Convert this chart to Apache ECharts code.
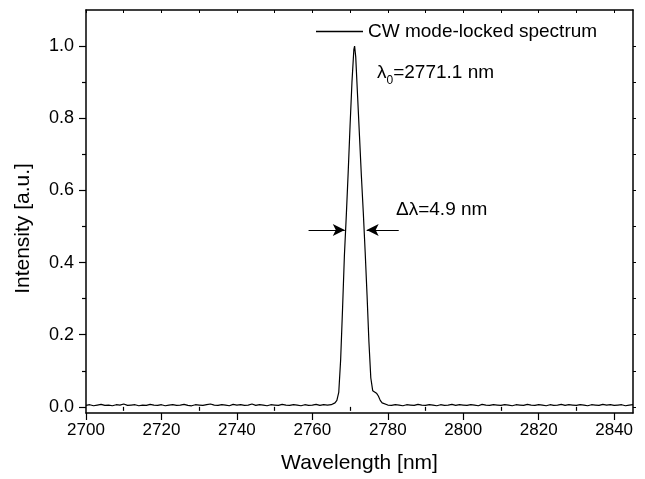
<!DOCTYPE html>
<html><head><meta charset="utf-8">
<script src="https://cdn.jsdelivr.net/npm/echarts@6/dist/echarts.min.js"></script>
<style>html,body{margin:0;padding:0;background:#fff}#c{width:645px;height:479px}</style>
</head><body><div id="c"></div>
<script>
// ---- data ----
const baseLeftStart = 2700; // 1 nm steps, 2700..2764
const baseLeft = [
 0.004,0.006,0.003,0.005,0.007,0.004,0.005,0.003,0.006,0.005,
 0.008,0.004,0.005,0.006,0.003,0.005,0.004,0.007,0.005,0.004,
 0.006,0.003,0.005,0.006,0.004,0.005,0.007,0.004,0.003,0.006,
 0.005,0.004,0.006,0.008,0.005,0.004,0.006,0.005,0.003,0.007,
 0.005,0.006,0.004,0.005,0.008,0.004,0.006,0.005,0.003,0.006,
 0.005,0.004,0.007,0.005,0.004,0.006,0.005,0.003,0.006,0.004,
 0.005,0.007,0.004,0.006,0.005];
const peakWavelength = [2765,2765.5,2766,2766.5,2767,2767.5,2768,2768.5,2769,2769.5,2770,2770.5,2771,2771.2,2771.5,2772,2772.5,2773,2773.5,2774,2774.5,2775,2775.5,2776,2776.5,2777,2777.5,2778,2778.5,2779];
const peakIntensity  = [0.006,0.008,0.011,0.018,0.04,0.13,0.27,0.42,0.53,0.65,0.78,0.9,0.99,1.0,0.97,0.86,0.75,0.64,0.54,0.43,0.31,0.18,0.08,0.045,0.04,0.038,0.03,0.018,0.011,0.007];
const baseRightStart = 2780; // 1 nm steps, 2780..2845
const baseRight = [
 0.005,0.004,0.006,0.005,0.003,0.006,0.005,0.004,0.007,0.005,
 0.004,0.006,0.005,0.003,0.006,0.004,0.005,0.007,0.004,0.006,
 0.005,0.004,0.006,0.005,0.003,0.007,0.005,0.004,0.006,0.005,
 0.004,0.006,0.005,0.003,0.006,0.005,0.004,0.007,0.005,0.004,
 0.006,0.005,0.003,0.006,0.004,0.005,0.007,0.004,0.006,0.005,
 0.004,0.006,0.005,0.003,0.006,0.005,0.004,0.007,0.005,0.006,
 0.004,0.005,0.006,0.003,0.005,0.006];
const xMajorTicks = [2700,2720,2740,2760,2780,2800,2820,2840];
const xMinorTicks = [2710,2730,2750,2770,2790,2810,2830];
const yMajorTicks = [0,0.2,0.4,0.6,0.8,1.0];
const yMinorTicks = [0.1,0.3,0.5,0.7,0.9];
const seriesName = 'CW mode-locked spectrum';
const fwhmLeftArrow = [[2759.0,0.49],[2768.6,0.49]];
const fwhmRightArrow = [[2782.9,0.49],[2774.4,0.49]];

// ---- build ----
const pts = [];
baseLeft.forEach((v,i)=>pts.push([baseLeftStart+i, v]));
peakWavelength.forEach((w,i)=>pts.push([w, peakIntensity[i]]));
baseRight.forEach((v,i)=>pts.push([baseRightStart+i, v]));

const FONT = 'Liberation Sans, Arial, sans-serif';
const black = '#000';
const xMin = 2700, xMax = 2845, yMin = -0.017, yMax = 1.1;

const chart = echarts.init(document.getElementById('c'), null, {renderer:'canvas'});
const hidden = {show:false};
chart.setOption({
  animation:false,
  backgroundColor:'#fff',
  grid:{left:86, right:12, top:10, bottom:66, containLabel:false},
  legend:{
    show:true, left:311, top:17, itemWidth:47, itemHeight:1.3, itemGap:6,
    icon:'rect',
    data:[seriesName],
    textStyle:{fontSize:19, color:black, fontFamily:FONT}
  },
  xAxis:[
    {type:'value', min:xMin, max:xMax, position:'bottom',
     axisLine:{show:true, onZero:false, lineStyle:{color:black, width:1.5}},
     axisTick:{show:true, customValues:xMajorTicks, length:7, lineStyle:{color:black, width:1.2}},
     axisLabel:{customValues:xMajorTicks, fontSize:17, color:black, fontFamily:FONT, margin:9,
       formatter:v=>String(v)},
     splitLine:hidden,
     name:'Wavelength [nm]', nameLocation:'middle', nameGap:40,
     nameTextStyle:{fontSize:21, color:black, fontFamily:FONT}},
    {type:'value', min:xMin, max:xMax, position:'bottom',
     axisLine:hidden, axisTick:{show:true, customValues:xMinorTicks, length:4, lineStyle:{color:black, width:1.2}},
     axisLabel:hidden, splitLine:hidden},
    {type:'value', min:xMin, max:xMax, position:'top',
     axisLine:{show:true, onZero:false, lineStyle:{color:black, width:1.5}},
     axisTick:{show:true, inside:true, customValues:xMajorTicks.concat(xMinorTicks), length:3, lineStyle:{color:black, width:1}},
     axisLabel:hidden, splitLine:hidden}
  ],
  yAxis:[
    {type:'value', min:yMin, max:yMax, position:'left',
     axisLine:{show:true, onZero:false, lineStyle:{color:black, width:1.5}},
     axisTick:{show:true, customValues:yMajorTicks, length:7, lineStyle:{color:black, width:1.2}},
     axisLabel:{customValues:yMajorTicks, fontSize:18, color:black, fontFamily:FONT, margin:12,
       formatter:v=>Number(v).toFixed(1)},
     splitLine:hidden,
     name:'Intensity [a.u.]', nameLocation:'middle', nameGap:52, nameRotate:90,
     nameTextStyle:{fontSize:21, color:black, fontFamily:FONT, padding:[0,34,0,0]}},
    {type:'value', min:yMin, max:yMax, position:'left',
     axisLine:hidden, axisTick:{show:true, customValues:yMinorTicks, length:4, lineStyle:{color:black, width:1.2}},
     axisLabel:hidden, splitLine:hidden},
    {type:'value', min:yMin, max:yMax, position:'right',
     axisLine:{show:true, onZero:false, lineStyle:{color:black, width:1.5}},
     axisTick:{show:true, customValues:yMajorTicks.concat(yMinorTicks), length:3, lineStyle:{color:black, width:1}},
     axisLabel:hidden, splitLine:hidden}
  ],
  series:[{
    name:seriesName, type:'line', xAxisIndex:0, yAxisIndex:0,
    data:pts, showSymbol:false, symbol:'none',
    lineStyle:{color:black, width:1.2}, itemStyle:{color:black},
    markLine:{
      silent:true, symbol:['none','arrow'], symbolSize:[9,12],
      lineStyle:{color:black, width:1, type:'solid'}, label:{show:false},
      data:[
        [{coord:fwhmLeftArrow[0]},{coord:fwhmLeftArrow[1]}],
        [{coord:fwhmRightArrow[0]},{coord:fwhmRightArrow[1]}]
      ]
    }
  }],
  graphic:[
    {type:'text', left:377, top:63, style:{
      text:'{a|λ}{s|0}{a|=2771.1 nm}',
      rich:{a:{fontSize:19, fontFamily:FONT, fill:black, verticalAlign:'bottom'},
            s:{fontSize:12, fontFamily:FONT, fill:black, verticalAlign:'bottom', padding:[0,0,-5,0]}}}},
    {type:'text', left:396, top:200, style:{text:'Δλ=4.9 nm', fontSize:19, fontFamily:FONT, fill:black}}
  ]
});
</script></body></html>
